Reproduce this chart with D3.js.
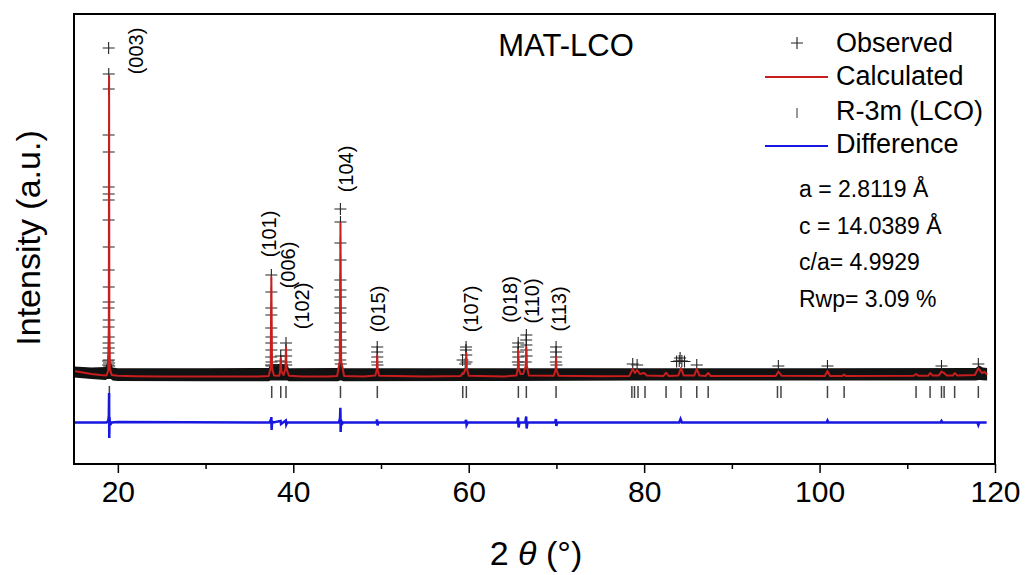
<!DOCTYPE html>
<html>
<head>
<meta charset="utf-8">
<script src="https://cdn.jsdelivr.net/npm/d3@7"></script>
<style>
  body { margin: 0; background: #fff; }
  text { font-family: "Liberation Sans", Arial, sans-serif; fill: #000; }
</style>
</head>
<body>
<div id="chart"></div>
<script>
// Bragg positions (2theta) of R-3m LiCoO2
var reflTheta = [19.03, 37.54, 38.57, 39.17, 45.38, 49.58, 59.32, 59.73, 65.66, 66.57, 69.96,
                 78.6, 78.9, 79.3, 80.1, 82.5, 84.2, 86.0, 87.3, 95.2, 95.6, 100.9, 102.8,
                 111.0, 112.6, 113.9, 114.2, 115.4, 118.1];

// hkl labels, anchored in data coords (2theta, intensity)
var hklLabels = ["(003)", "(101)", "(006)", "(102)", "(104)", "(015)", "(107)", "(018)", "(110)", "(113)"];
var hklTheta  = [22.07, 37.23, 39.40, 40.94, 46.01, 49.66, 60.26, 64.71, 67.16, 70.30];
var hklInt    = [33200, 14900, 11800, 7700, 21400, 7400, 7400, 8350, 8200, 7400];

// calculated profile [2theta, intensity]
var calcPts = [
  [15,1200],[16,1050],[17,900],[18,790],[18.7,760],[18.9,1200],[18.97,6000],[19.0,30700],[19.03,6000],[19.1,1400],[19.3,800],
  [20,720],[22,680],[25,650],[30,640],[36,640],
  [37.2,700],[37.42,1500],[37.5,10600],[37.58,1500],[37.8,750],
  [38.4,720],[38.5,1200],[38.57,2500],[38.64,1200],[38.9,800],[39.1,1400],[39.17,3600],[39.24,1400],[39.5,720],
  [41,650],[44,650],[45.0,700],[45.3,2200],[45.38,16000],[45.46,2200],[45.8,700],
  [48,650],[49.35,750],[49.52,1300],[49.57,2800],[49.62,1300],[49.8,720],
  [55,650],[59.1,700],[59.3,1000],[59.4,900],[59.68,1500],[59.73,3000],[59.78,1500],[60.0,720],
  [64,660],[65.45,760],[65.6,1500],[65.65,3300],[65.7,1500],[65.9,900],[66.2,900],[66.5,1700],[66.57,3600],[66.63,1700],[66.85,760],
  [69.7,720],[69.9,1300],[69.96,2600],[70.02,1300],[70.25,720],
  [75,670],[78.3,690],[78.7,1400],[78.95,1000],[79.2,1300],[79.5,900],[80.0,1000],[80.3,760],
  [82.2,700],[82.5,1030],[82.8,700],[83.9,760],[84.2,1500],[84.5,760],[85.7,740],[86.0,1400],[86.3,740],
  [87.0,700],[87.3,1000],[87.6,700],[95.0,700],[95.3,1130],[95.7,720],[100.6,700],[100.9,1200],[101.2,700],
  [102.6,700],[102.8,850],[103.0,700],[110.7,720],[111.0,900],[111.3,720],[112.4,720],[112.6,1000],[112.9,740],
  [113.6,760],[113.9,1130],[114.2,1000],[114.5,760],[115.2,740],[115.4,1000],[115.7,740],
  [117.7,800],[118.1,1470],[118.5,1000],[118.8,1100],[119.1,850]
];

// observed points on the peaks [2theta, intensity]
var obsPts = [
  [18.95,33500],[18.96,30900],[18.96,29400],[18.95,24800],[18.96,23100],[18.95,19600],[18.96,18900],[18.95,18300],
  [18.95,16300],[18.96,13600],[18.95,11300],[18.96,9600],[18.95,8100],[18.94,7500],[18.96,6300],[18.94,5600],
  [18.96,4600],[18.93,4000],[18.97,3500],[18.92,3000],[18.98,2300],[18.9,1800],[19.0,2000],[18.88,2200],[19.02,1700],
  [37.5,10800],[37.5,9100],[37.49,7500],[37.5,6800],[37.49,5500],[37.51,4600],[37.49,4000],[37.5,3300],[37.48,2600],
  [37.52,2100],[37.47,1800],[37.53,1700],
  [38.57,2700],[38.56,2200],[38.58,1800],
  [39.17,4000],[39.16,3300],[39.18,2700],[39.15,2100],[39.2,1800],
  [45.37,17400],[45.38,16100],[45.37,14000],[45.38,12300],[45.37,10300],[45.38,9300],[45.37,8600],[45.38,7500],
  [45.37,7000],[45.38,6000],[45.36,5100],[45.39,4300],[45.36,3600],[45.4,3000],[45.35,2300],[45.41,1900],
  [49.57,3600],[49.56,3100],[49.58,2600],[49.55,2100],[49.6,1800],
  [59.7,3600],[59.68,3300],[59.72,2800],[59.3,2300],[59.75,2100],[59.6,1900],
  [65.64,4000],[65.65,3600],[65.63,3100],[65.66,2600],[65.6,2100],[65.7,1800],
  [66.57,4800],[66.55,4300],[66.58,3800],[66.54,3300],[66.6,2700],[66.5,2100],
  [69.96,3600],[69.95,3100],[69.97,2600],[69.93,2100],[70.0,1800],
  [83.7,2150],[84.0,2200],[84.1,2500],[84.3,2200],[84.6,2150],
  [78.7,1900],[79.2,1800],[86.0,1800],[95.3,1700],[100.9,1700],[113.9,1700],[118.1,1900]
];

// observed background band [2theta, low, high]
var bandPts = [
  [15,550,1650],[17,400,1550],[18.6,300,1600],[18.8,400,2100],[19.2,400,2100],[19.4,250,1550],[20,200,1480],
  [30,180,1470],[37.2,180,1500],[37.4,250,1900],[39.3,250,1900],[39.5,180,1480],[45.1,180,1500],[45.3,250,2000],
  [45.5,250,2000],[45.7,180,1480],[60,200,1480],[80,250,1470],[100,250,1470],[117.8,260,1500],[118.2,300,1750],
  [118.6,280,1550],[119.1,260,1500]
];

// difference curve [2theta, obs - calc, offset]
var diffPts = [
  [15,-3950],[18.7,-3950],[18.9,-3800],[18.97,-3300],[19.0,-1000],[19.02,-5500],[19.05,-3400],[19.1,-4200],[19.3,-3950],
  [20,-3900],[37.3,-3950],[37.48,-3600],[37.5,-3400],[37.53,-4700],[37.58,-3850],[37.7,-3950],
  [38.55,-3800],[38.6,-4100],[39.15,-3750],[39.2,-4150],[39.3,-3950],
  [45.2,-3950],[45.33,-3500],[45.37,-2470],[45.4,-4900],[45.45,-3700],[45.55,-4100],[45.7,-3950],
  [49.5,-3950],[49.55,-3650],[49.6,-4250],[49.7,-3950],[59.6,-3950],[59.7,-3700],[59.76,-4200],[59.9,-3950],
  [65.55,-3950],[65.63,-3450],[65.68,-4450],[65.8,-3950],[66.45,-3950],[66.55,-3350],[66.6,-4550],[66.7,-3950],
  [69.85,-3950],[69.94,-3600],[69.99,-4300],[70.1,-3950],[84.0,-3950],[84.15,-3600],[84.3,-3950],
  [100.8,-3950],[100.9,-3750],[101.0,-3950],[113.8,-3950],[113.9,-3800],[114.0,-3950],
  [118.0,-3950],[118.1,-4200],[118.2,-3950],[119.05,-3950]
];

var xTicks = [20, 40, 60, 80, 100, 120];
var xMinor = [30, 50, 70, 90, 110];

var legendLabels = ["Observed", "Calculated", "R-3m (LCO)", "Difference"];
var params = ["a = 2.8119 Å", "c = 14.0389 Å", "c/a= 4.9929", "Rwp= 3.09 %"];

// set the dimensions
var W = 1027, H = 575;
var plot = {left: 74, right: 995, top: 14, bottom: 464};

var x = d3.scaleLinear().domain([15, 120]).range([plot.left, plot.right]);
var y = d3.scaleLinear().domain([-8100, 36900]).range([plot.bottom, plot.top]);

var svg = d3.select("#chart").append("svg")
    .attr("width", W)
    .attr("height", H);

svg.append("clipPath").attr("id", "clip")
  .append("rect")
    .attr("x", plot.left).attr("y", plot.top)
    .attr("width", plot.right - plot.left).attr("height", plot.bottom - plot.top);

var g = svg.append("g").attr("clip-path", "url(#clip)");

// observed background band
g.append("path")
    .datum(bandPts)
    .attr("fill", "#111")
    .attr("d", d3.area()
        .x(function(d) { return x(d[0]); })
        .y0(function(d) { return y(d[1]); })
        .y1(function(d) { return y(d[2]); }));

// observed points as + markers
g.selectAll("obs")
    .data(obsPts)
  .enter().append("path")
    .attr("transform", function(d) { return "translate(" + x(d[0]) + "," + y(d[1]) + ")"; })
    .attr("d", "M-6,0H6M0,-6V6")
    .attr("stroke", "#222")
    .attr("stroke-width", 1.1)
    .attr("fill", "none");

// calculated line
g.append("path")
    .datum(calcPts)
    .attr("fill", "none")
    .attr("stroke", "#c81e1e")
    .attr("stroke-width", 2)
    .attr("stroke-linejoin", "round")
    .attr("d", d3.line()
        .x(function(d) { return x(d[0]); })
        .y(function(d) { return y(d[1]); }));

// Bragg ticks
g.selectAll("refl")
    .data(reflTheta)
  .enter().append("line")
    .attr("x1", function(d) { return x(d); })
    .attr("x2", function(d) { return x(d); })
    .attr("y1", y(-300))
    .attr("y2", y(-1500))
    .attr("stroke", "#444")
    .attr("stroke-width", 1.5);

// difference line
g.append("path")
    .datum(diffPts)
    .attr("fill", "none")
    .attr("stroke", "#1717e0")
    .attr("stroke-width", 2.5)
    .attr("d", d3.line()
        .x(function(d) { return x(d[0]); })
        .y(function(d) { return y(d[1]); }));

// hkl labels
svg.selectAll("hkl")
    .data(hklLabels)
  .enter().append("text")
    .attr("transform", function(d, i) {
      return "translate(" + x(hklTheta[i]) + "," + y(hklInt[i]) + ")rotate(-90)";
    })
    .attr("text-anchor", "middle")
    .attr("dy", "0.35em")
    .style("font-size", "20px")
    .text(function(d) { return d; });

// frame
svg.append("rect")
    .attr("x", plot.left).attr("y", plot.top)
    .attr("width", plot.right - plot.left).attr("height", plot.bottom - plot.top)
    .attr("fill", "none")
    .attr("stroke", "#000")
    .attr("stroke-width", 2);

// x axis
var xAxis = svg.append("g")
    .attr("transform", "translate(0," + plot.bottom + ")")
    .call(d3.axisBottom(x).tickValues(xTicks).tickSize(9).tickPadding(8));
xAxis.select(".domain").remove();
xAxis.selectAll("line").attr("stroke-width", 1.5);
xAxis.selectAll("text")
    .attr("font-family", null)
    .style("font-size", "30px");

var xMinorAxis = svg.append("g")
    .attr("transform", "translate(0," + plot.bottom + ")")
    .call(d3.axisBottom(x).tickValues(xMinor).tickSize(5).tickFormat(""));
xMinorAxis.select(".domain").remove();
xMinorAxis.selectAll("line").attr("stroke-width", 1.5);

// axis titles
var xt = svg.append("text")
    .attr("x", 536).attr("y", 565)
    .attr("text-anchor", "middle")
    .style("font-size", "34px");
xt.append("tspan").text("2 ");
xt.append("tspan").style("font-style", "italic").text("θ");
xt.append("tspan").text(" (°)");

svg.append("text")
    .attr("transform", "translate(28,238)rotate(-90)")
    .attr("text-anchor", "middle")
    .attr("dy", "0.35em")
    .style("font-size", "34px")
    .text("Intensity (a.u.)");

// title
svg.append("text")
    .attr("x", 566).attr("y", 56)
    .attr("text-anchor", "middle")
    .style("font-size", "31px")
    .text("MAT-LCO");

// legend
var legY = [52, 85, 120, 153];
var leg = svg.append("g");
leg.selectAll("text")
    .data(legendLabels)
  .enter().append("text")
    .attr("x", 836)
    .attr("y", function(d, i) { return legY[i]; })
    .style("font-size", "27px")
    .text(function(d) { return d; });

leg.append("path")
    .attr("transform", "translate(797,43)")
    .attr("d", "M-6,0H6M0,-6V6")
    .attr("stroke", "#222")
    .attr("stroke-width", 1.1);
leg.append("line")
    .attr("x1", 765).attr("x2", 828).attr("y1", 77).attr("y2", 77)
    .attr("stroke", "#c81e1e").attr("stroke-width", 2);
leg.append("line")
    .attr("x1", 797).attr("x2", 797).attr("y1", 108).attr("y2", 118)
    .attr("stroke", "#555").attr("stroke-width", 1.2);
leg.append("line")
    .attr("x1", 765).attr("x2", 828).attr("y1", 146).attr("y2", 146)
    .attr("stroke", "#1717e0").attr("stroke-width", 2);

// refined parameters
svg.selectAll("param")
    .data(params)
  .enter().append("text")
    .attr("x", 799)
    .attr("y", function(d, i) { return 197 + i * 36.7; })
    .style("font-size", "23px")
    .text(function(d) { return d; });
</script>
</body>
</html>
